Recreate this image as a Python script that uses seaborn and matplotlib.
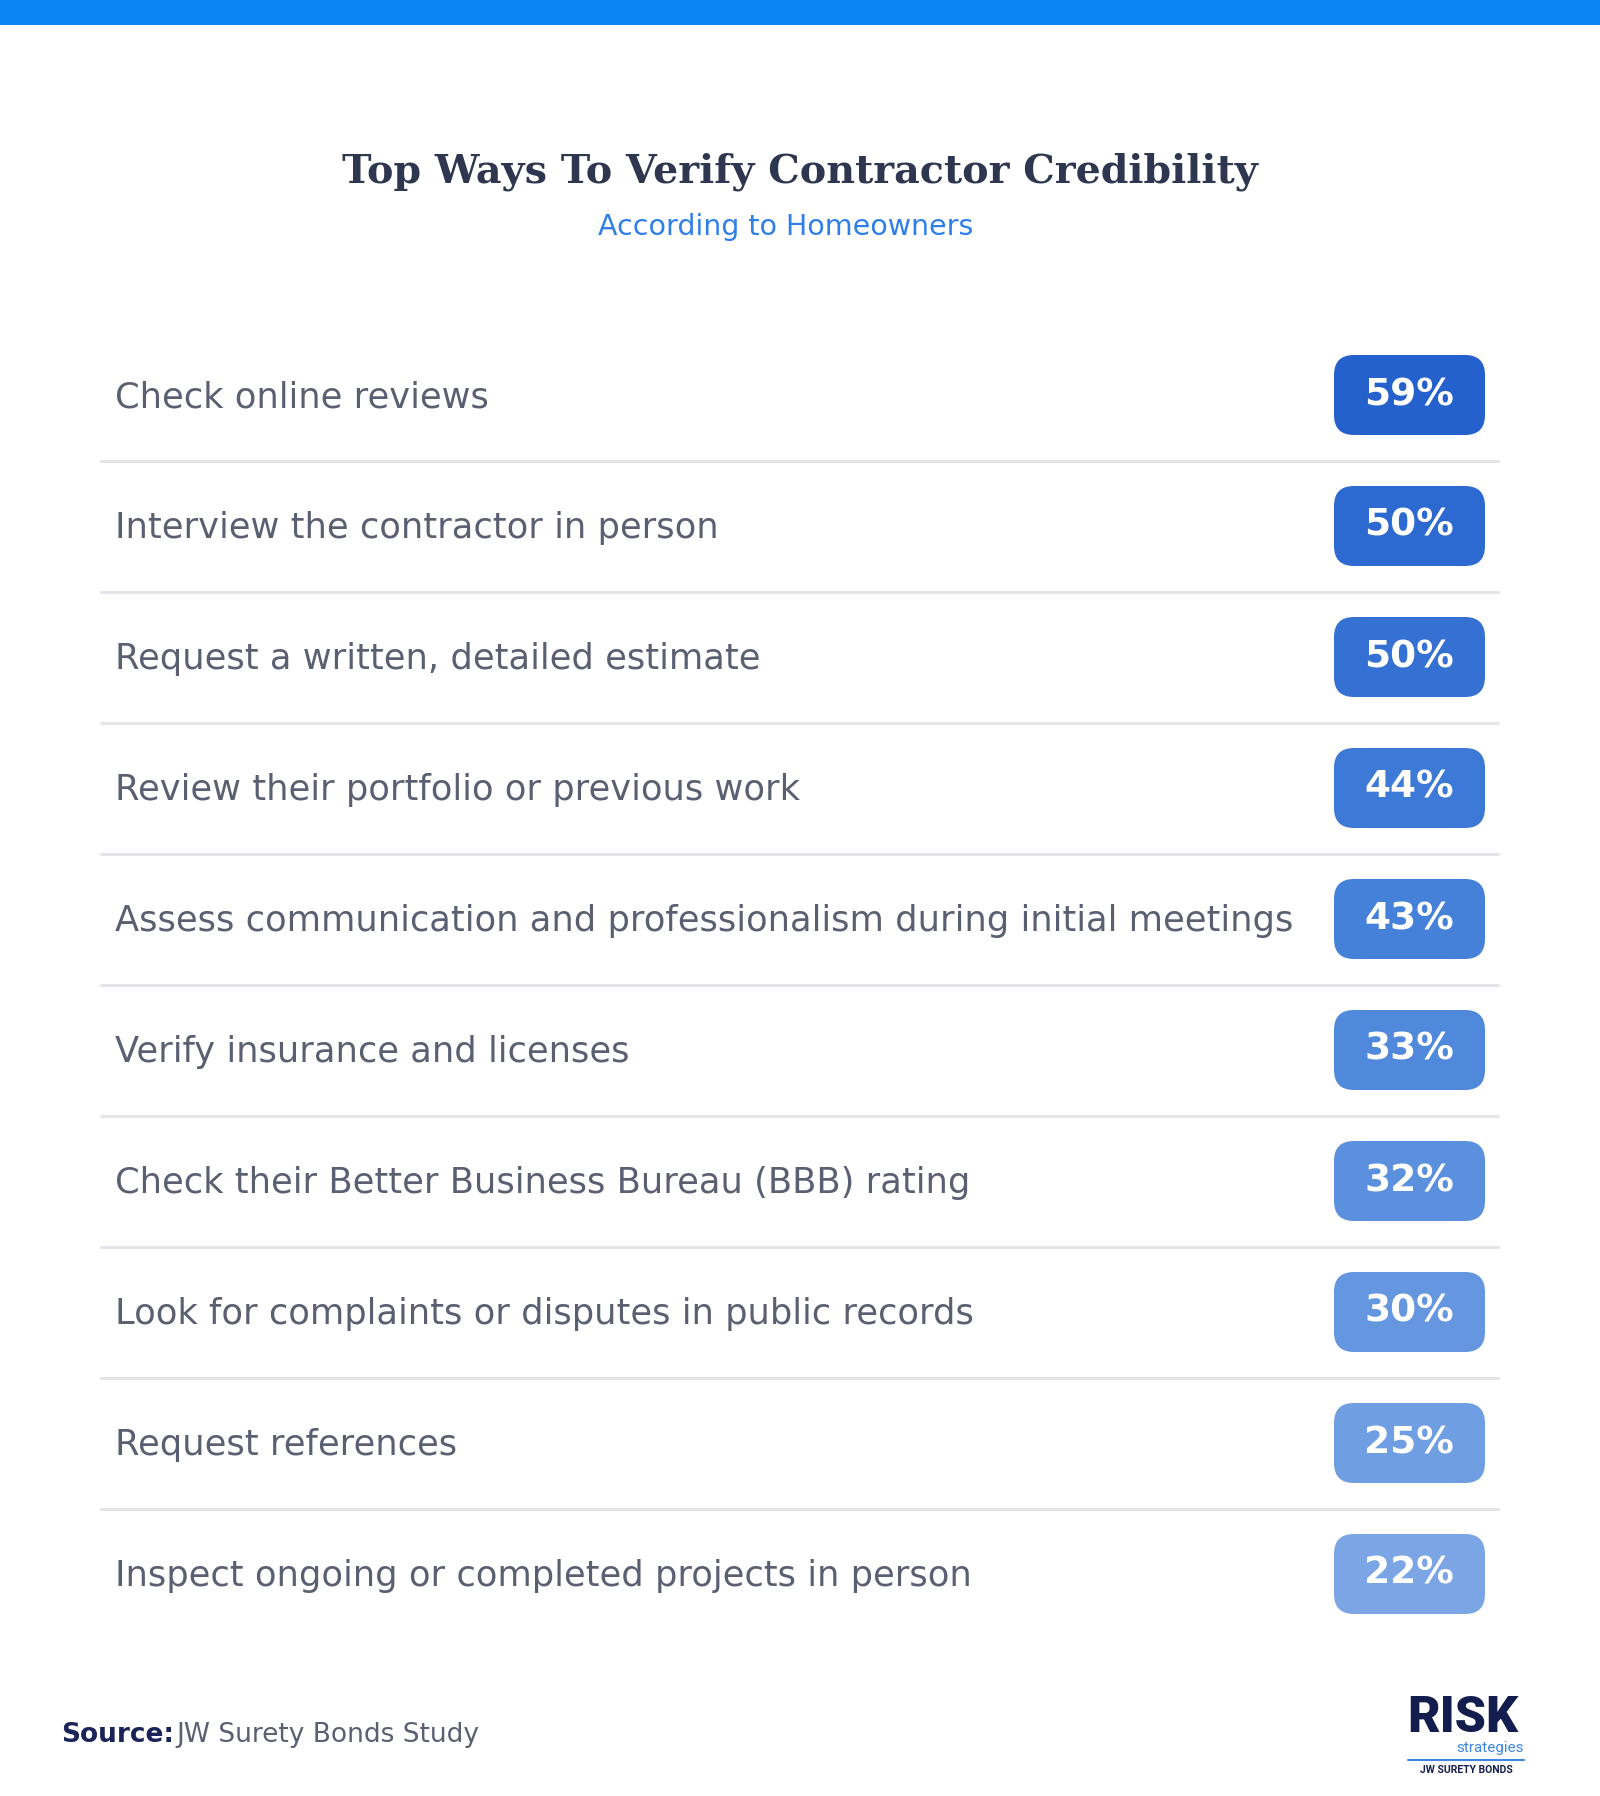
import matplotlib
matplotlib.use("Agg")
import matplotlib.pyplot as plt
import seaborn as sns
from matplotlib.patches import FancyBboxPatch, Rectangle

categories = ["Check online reviews", "Interview the contractor in person",
              "Request a written, detailed estimate", "Review their portfolio or previous work",
              "Assess communication and professionalism during initial meetings",
              "Verify insurance and licenses", "Check their Better Business Bureau (BBB) rating",
              "Look for complaints or disputes in public records", "Request references",
              "Inspect ongoing or completed projects in person"]
values = [59, 50, 50, 44, 43, 33, 32, 30, 25, 22]
labels = [f"{v}%" for v in values]

sns.set_theme(style="white")
W, H = 1600, 1796
fig = plt.figure(figsize=(16, 17.96), dpi=100)
ax = fig.add_axes([0, 0, 1, 1])
ax.set_xlim(0, W); ax.set_ylim(H, 0); ax.axis("off")

ax.add_patch(Rectangle((0, 0), W, 25, color="#0A84F5", lw=0))
ax.text(800, 172, "Top Ways To Verify Contractor Credibility", ha="center", va="center",
        fontsize=28.5, fontweight="bold", family="DejaVu Serif", color="#2E3650")
ax.text(786, 227, "According to Homeowners", ha="center", va="center",
        fontsize=20.5, family="DejaVu Sans", color="#2F7FE8")

y0, step = 395, 131
palette = sns.blend_palette(["#2461CD", "#4A85DA", "#7BA5E4"], len(values))
for i, (c, v, lab) in enumerate(zip(categories, values, labels)):
    y = y0 + i * step
    ax.text(115, y + 2, c, ha="left", va="center", fontsize=25.4, family="DejaVu Sans", color="#5A6072")
    r = 20
    ax.add_patch(FancyBboxPatch((1334 + r, y - 40 + r), 151 - 2 * r, 80 - 2 * r,
                                boxstyle=f"round,pad={r}", fc=palette[i], ec="none"))
    ax.text(1409, y, lab, ha="center", va="center", fontsize=27, fontweight="bold",
            family="DejaVu Sans", color="white")
    if i < len(values) - 1:
        ax.plot([101, 1498], [y + 65.5, y + 65.5], color="#E4E5EA", lw=2.2)

ax.text(61, 1735, "Source:", ha="left", va="center", fontsize=19, fontweight="bold",
        family="DejaVu Sans", color="#1A2458")
ax.text(176, 1735, "JW Surety Bonds Study", ha="left", va="center", fontsize=19,
        family="DejaVu Sans", color="#5A6072")
ax.text(1407, 1719, "RISK", ha="left", va="center", fontsize=36, fontweight="black",
        family="Roboto", color="#131E4F")
ax.text(1524, 1748, "strategies", ha="right", va="center", fontsize=11, family="Roboto", color="#3E86E0")
ax.plot([1408, 1524], [1760, 1760], color="#3E86E0", lw=1.5)
ax.text(1466, 1770, "JW SURETY BONDS", ha="center", va="center", fontsize=7.5,
        fontweight="bold", family="Roboto", color="#131E4F")
fig.savefig("out.png", dpi=100, facecolor="white")
